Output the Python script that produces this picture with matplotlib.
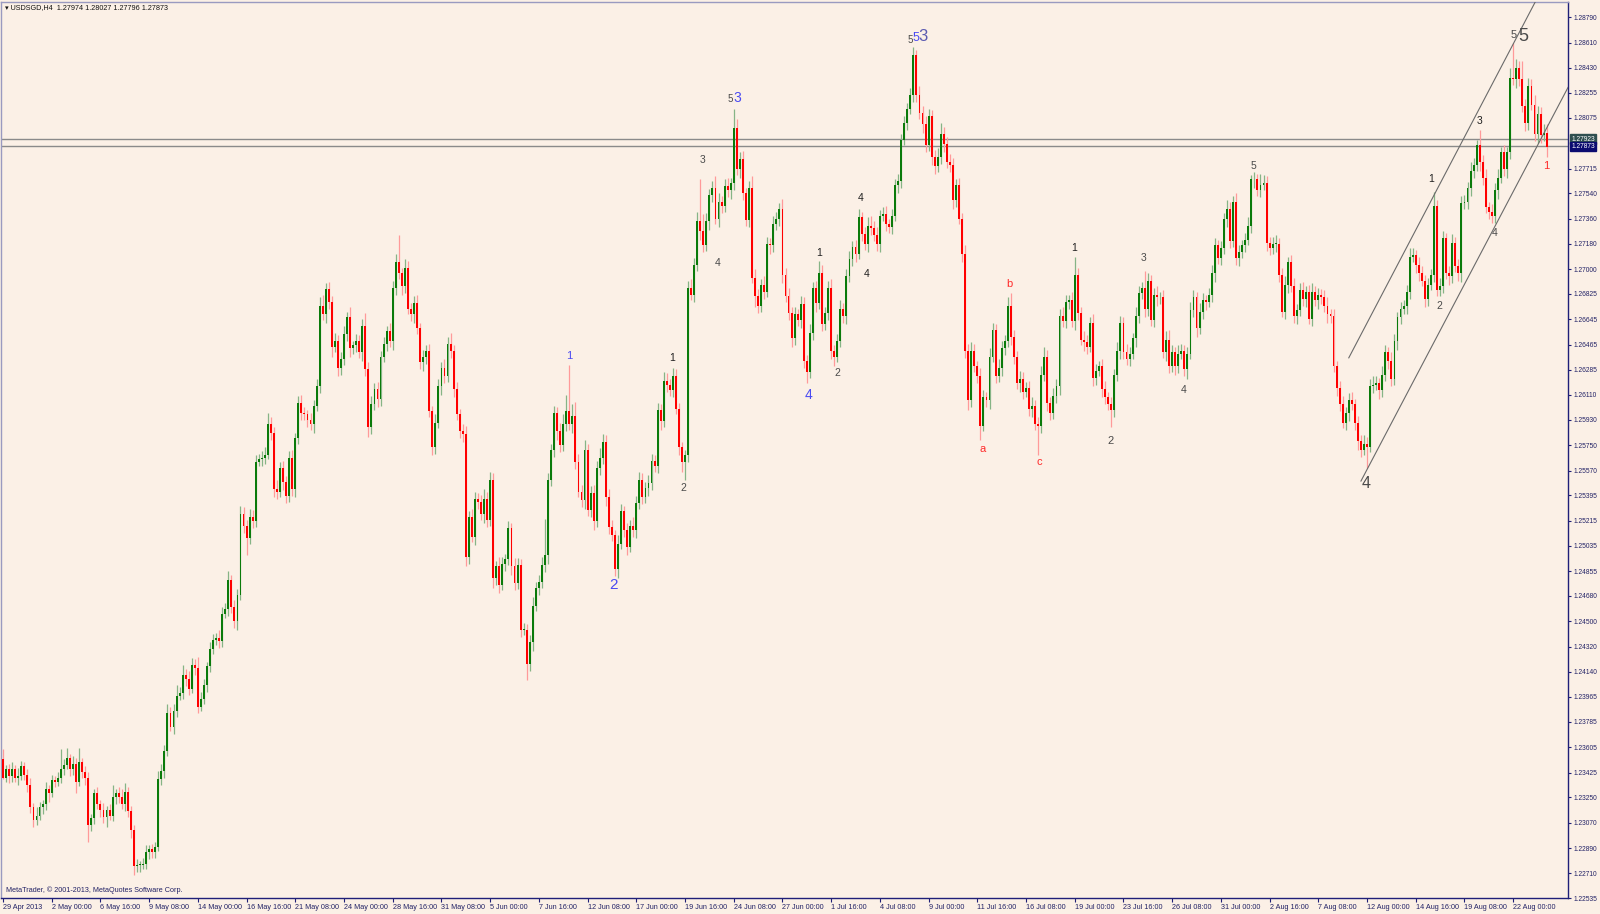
import numpy as np
import pandas as pd
import matplotlib
matplotlib.use("Agg")
import matplotlib.pyplot as plt

plt.rcParams["font.family"] = ["Liberation Sans", "DejaVu Sans"]

# USDSGD H4 candles, values in pips above 1.20000
first_open = 352
close_a = [339, 345, 340, 345, 339, 340, 347, 341, 334, 318,
           309, 312, 318, 320, 331, 328, 337, 336, 339, 345,
           348, 353, 345, 349, 336, 350, 343, 339, 305, 310,
           328, 320, 316, 311, 316, 312, 325, 328, 325, 320,
           329, 315, 302, 276, 277, 277, 278, 286, 288, 286,
           290, 338, 344, 358, 385, 375, 386, 397, 399, 412,
           409, 402, 419, 417, 389]
close_b = [395, 405, 418, 430, 437,
           438, 436, 455, 459, 479, 460, 450, 469, 526, 518,
           509, 524, 521, 563, 565, 566, 568, 590, 584, 544,
           542, 559, 549, 539, 566, 544, 580, 605, 598, 597,
           593, 590, 603, 617, 674, 668, 686, 677, 645, 649,
           630, 636, 654, 666, 644, 646, 649, 641, 660, 629,
           588, 604, 615, 608, 638, 647, 656, 649, 687, 705]
close_c = [697, 688, 701, 672, 668, 676, 658, 634, 638, 642,
           599, 574, 591, 617, 630, 624, 647, 642, 615, 597,
           585, 583, 496, 524, 510, 537, 535, 526, 537, 522,
           550, 481, 489, 476, 491, 494, 516, 489, 477, 490,
           444, 444, 420, 435, 461, 474, 478, 490, 497, 550,
           572, 598, 585, 575, 590, 599, 590, 596, 563, 542,
           536, 572, 529, 541, 521, 559, 566, 577, 538, 517]
close_d = [511, 487, 505, 528, 515, 503, 518, 515, 534, 550,
           538, 545, 548, 564, 560, 600, 592, 621, 618, 614,
           624, 601, 574, 563, 568, 687, 682, 703, 734, 727,
           717, 734, 753, 758, 736, 748, 745, 759, 756, 761,
           800, 771, 778, 754, 735, 758, 694, 681, 674, 689,
           684, 718, 717, 732, 736, 743, 696, 681, 669, 651,
           668, 664, 675, 635, 627]
close_e = [655, 687, 676, 697, 661,
           669, 687, 642, 638, 649, 672, 667, 695, 707, 716,
           711, 737, 725, 718, 731, 729, 724, 718, 738, 739,
           732, 730, 738, 760, 763, 792, 804, 814, 824, 852,
           824, 811, 803, 788, 809, 780, 773, 780, 796, 789,
           776, 774, 749, 760, 736, 711, 642, 607, 642, 631,
           624, 589, 609, 607, 638, 657, 624, 630, 644, 649]
close_f = [674, 652, 638, 619, 622, 613, 616, 601, 603, 590,
           589, 625, 638, 605, 598, 610, 617, 667, 663, 677,
           678, 663, 696, 669, 650, 648, 645, 662, 623, 628,
           631, 615, 609, 604, 600, 625, 642, 662, 641, 636,
           640, 651, 667, 683, 687, 672, 692, 664, 682, 680,
           680, 641, 650, 631, 641, 631, 640, 642, 629, 640,
           671, 680, 658, 670, 678, 677, 682, 697, 717, 708]
close_g = [715, 736, 743, 720, 748, 708, 712, 717, 721, 731,
           764, 764, 756, 760, 761, 719, 715, 718, 718, 696,
           670, 689, 705, 688, 667, 671, 685, 679, 684, 665,
           684, 678, 682, 680, 674, 668, 667, 631, 616, 604,
           591, 598, 607, 604, 591, 578, 572, 576, 574, 617,
           618, 619, 614, 625, 641, 635, 622, 649, 666, 672]
close_h = [674, 684, 709, 710, 703, 697, 692, 679, 689, 696,
           745, 685, 688, 722, 697, 695, 719, 702, 697, 747,
           748, 758, 770, 774, 788, 776, 765, 744, 741, 738,
           756, 765, 783, 771, 783, 836, 835, 843, 835, 816,
           804, 830, 817, 796, 810, 795, 797, 787]

# wick lengths above / below the body, pips
wick_up = [7, 3, 4, 5, 3, 6, 4, 3, 4, 5, 3, 6, 4, 3, 5, 3, 4, 3, 4, 14,
           4, 7, 3, 5, 4, 10, 3, 4, 4, 3, 3, 4, 3, 5, 3, 4, 9, 3, 4, 6,
           6, 3, 4, 3, 4, 3, 4, 5, 3, 4, 3, 6, 5, 4, 6, 4, 5, 8, 4, 7,
           4, 6, 5, 4, 8, 5, 4, 3, 5, 4, 4, 6, 5, 4, 7, 4, 5, 4, 6, 5,
           4, 6, 5, 5, 4, 5, 6, 8, 5, 4, 6, 4, 5, 4, 5, 6, 4, 5, 6, 4,
           3, 5, 4, 5, 6, 8, 4, 5, 4, 6, 4, 5, 6, 4, 7, 3, 5, 4, 5, 9,
           5, 6, 4, 5, 4, 5, 4, 6, 5, 6, 19, 4, 6, 5, 4, 5, 6, 4, 5, 4,
           5, 4, 6, 5, 4, 6, 5, 8, 4, 5, 4, 5, 6, 4, 6, 5, 4, 5, 7, 5,
           6, 5, 4, 7, 5, 4, 5, 4, 6, 5, 4, 5, 4, 5, 6, 4, 5, 6, 26, 5,
           4, 5, 4, 6, 7, 12, 33, 8, 10, 6, 5, 7, 4, 5, 6, 5, 7, 6, 5, 6,
           5, 4, 6, 5, 4, 5, 4, 6, 5, 6, 5, 4, 6, 5, 4, 5, 4, 6, 5, 4,
           6, 5, 4, 3, 4, 5, 6, 5, 7, 30, 12, 6, 4, 5, 8, 6, 4, 5, 6, 4,
           14, 7, 5, 6, 4, 5, 8, 6, 5, 4, 6, 5, 4, 6, 5, 4, 7, 5, 6, 4,
           5, 4, 6, 5, 4, 6, 4, 5, 9, 6, 4, 5, 6, 4, 5, 6, 4, 5, 6, 4,
           5, 6, 4, 5, 6, 7, 5, 6, 4, 5, 6, 4, 5, 4, 5, 4, 5, 4, 5, 6,
           4, 6, 5, 6, 5, 4, 5, 6, 8, 5, 5, 6, 5, 4, 5, 4, 6, 5, 6, 5,
           4, 6, 5, 4, 6, 5, 4, 6, 5, 4, 6, 9, 5, 4, 6, 5, 4, 5, 6, 4,
           5, 6, 7, 5, 4, 6, 5, 5, 6, 5, 4, 6, 13, 5, 4, 6, 5, 4, 6, 5,
           4, 5, 6, 4, 5, 4, 6, 5, 4, 6, 5, 4, 6, 5, 4, 12, 5, 4, 5, 6,
           4, 5, 6, 7, 5, 4, 6, 5, 4, 5, 6, 5, 4, 6, 5, 4, 5, 6, 5, 4,
           5, 4, 6, 5, 4, 6, 5, 4, 5, 6, 3, 5, 4, 8, 6, 5, 4, 5, 6, 4,
           5, 6, 4, 5, 6, 4, 5, 6, 4, 5, 6, 4, 5, 4, 5, 6, 4, 5, 4, 5,
           6, 4, 5, 6, 4, 5, 4, 6, 5, 5, 6, 5, 4, 6, 5, 4, 6, 5, 4, 5,
           4, 5, 6, 5, 4, 6, 5, 4, 5, 4, 10, 4, 6, 5, 4, 5, 6, 4, 5, 5,
           5, 4, 6, 5, 4, 11, 5, 6, 4, 5, 5, 6, 4, 5, 4, 7, 25, 6, 5, 13,
           5, 6, 5, 7, 6, 5, 6, 6]
wick_dn = [1, 3, 5, 4, 3, 5, 3, 4, 5, 4, 5, 4, 3, 5, 4, 6, 3, 4, 3, 4,
           4, 3, 5, 4, 8, 3, 4, 5, 12, 4, 4, 3, 5, 4, 7, 3, 4, 5, 4, 3,
           5, 4, 6, 6, 4, 5, 3, 4, 5, 4, 4, 3, 4, 5, 4, 3, 5, 4, 3, 4,
           5, 4, 3, 5, 4, 3, 4, 5, 4, 3, 4, 5, 4, 3, 5, 4, 5, 6, 4, 5,
           12, 4, 5, 4, 3, 5, 4, 3, 5, 6, 5, 4, 6, 5, 4, 5, 6, 4, 5, 4,
           5, 4, 6, 4, 5, 4, 6, 5, 7, 4, 6, 5, 4, 5, 6, 4, 5, 4, 6, 5,
           7, 5, 4, 6, 5, 4, 5, 4, 6, 5, 4, 6, 5, 4, 5, 6, 4, 5, 6, 5,
           4, 6, 5, 4, 6, 5, 4, 5, 6, 4, 5, 6, 7, 5, 4, 6, 5, 4, 6, 5,
           4, 7, 5, 6, 4, 5, 4, 6, 5, 4, 5, 4, 12, 5, 6, 4, 5, 4, 5, 6,
           4, 5, 6, 5, 4, 5, 4, 6, 5, 4, 5, 6, 4, 5, 6, 4, 5, 4, 6, 5,
           4, 5, 6, 4, 5, 6, 4, 5, 6, 4, 5, 4, 6, 5, 4, 5, 6, 4, 5, 4,
           5, 4, 6, 7, 13, 5, 4, 5, 4, 6, 5, 4, 6, 5, 4, 6, 5, 4, 5, 6,
           5, 4, 6, 5, 4, 5, 4, 8, 5, 4, 5, 4, 6, 5, 4, 5, 6, 4, 5, 6,
           5, 4, 6, 5, 8, 4, 5, 6, 4, 5, 4, 5, 6, 7, 4, 4, 5, 6, 4, 5,
           6, 4, 5, 4, 6, 5, 4, 5, 6, 4, 5, 4, 5, 4, 6, 5, 4, 5, 4, 5,
           5, 4, 6, 5, 4, 6, 5, 4, 5, 6, 4, 5, 6, 5, 4, 6, 5, 7, 5, 4,
           5, 10, 4, 5, 6, 4, 5, 4, 6, 5, 4, 6, 5, 4, 6, 5, 4, 5, 6, 4,
           21, 5, 4, 6, 5, 4, 5, 6, 4, 5, 5, 4, 6, 5, 4, 6, 5, 4, 6, 5,
           4, 6, 5, 4, 12, 5, 4, 6, 5, 4, 5, 4, 6, 5, 4, 6, 5, 4, 5, 6,
           5, 4, 6, 5, 4, 6, 5, 4, 5, 7, 4, 5, 6, 4, 5, 6, 4, 5, 6, 4,
           5, 4, 6, 5, 4, 5, 6, 4, 5, 4, 5, 6, 4, 5, 4, 6, 5, 4, 6, 5,
           4, 5, 6, 4, 5, 6, 4, 5, 6, 4, 5, 4, 6, 5, 4, 6, 5, 4, 6, 5,
           4, 5, 6, 4, 5, 6, 5, 4, 15, 4, 5, 4, 6, 5, 4, 6, 5, 4, 6, 5,
           4, 6, 5, 4, 6, 5, 4, 6, 5, 4, 5, 4, 4, 5, 4, 6, 5, 4, 5, 6,
           4, 5, 6, 5, 4, 6, 5, 4, 5, 5, 5, 6, 4, 5, 6, 5, 4, 6, 5, 4,
           6, 5, 4, 5, 6, 5, 4, 7]

# time labels on the bottom scale
x_tick_times = ["2013-05-02 00:00", "2013-05-06 16:00", "2013-05-09 08:00",
                "2013-05-14 00:00", "2013-05-16 16:00", "2013-05-21 08:00",
                "2013-05-24 00:00", "2013-05-28 16:00", "2013-05-31 08:00",
                "2013-06-05 00:00", "2013-06-07 16:00", "2013-06-12 08:00",
                "2013-06-17 00:00", "2013-06-19 16:00", "2013-06-24 08:00",
                "2013-06-27 00:00", "2013-07-01 16:00", "2013-07-04 08:00",
                "2013-07-09 00:00", "2013-07-11 16:00", "2013-07-16 08:00",
                "2013-07-19 00:00", "2013-07-23 16:00", "2013-07-26 08:00",
                "2013-07-31 00:00", "2013-08-02 16:00", "2013-08-07 08:00",
                "2013-08-12 00:00", "2013-08-14 16:00", "2013-08-19 08:00",
                "2013-08-22 00:00"]
y_ticks = [1.28790, 1.28610, 1.28430, 1.28255, 1.28075, 1.27715, 1.27540,
           1.27360, 1.27180, 1.27000, 1.26825, 1.26645, 1.26465, 1.26285,
           1.26110, 1.25930, 1.25750, 1.25570, 1.25395, 1.25215, 1.25035,
           1.24855, 1.24680, 1.24500, 1.24320, 1.24140, 1.23965, 1.23785,
           1.23605, 1.23425, 1.23250, 1.23070, 1.22890, 1.22710, 1.22535]

ask_price = 1.27923
bid_price = 1.27873

# channel: two anchor points per line (bar index, price)
chan_upper = [(442, 1.26371), (490, 1.28352)]
chan_lower = [(446, 1.25496), (494, 1.27469)]

# wave labels: text, bar index, price, colour key, font size
wave_text = ["1", "2", "5", "3", "4", "5", "5", "3",
             "1", "2", "3", "4", "1", "2", "4", "4",
             "a", "b", "c", "1", "2", "3", "4", "5", "4",
             "1", "2", "3", "4", "5", "5", "1"]
wave_bar = [186, 200.6, 238.8, 241.2, 264.7, 297.9, 299.8, 302.2,
            219.9, 223.6, 229.9, 234.8, 268.1, 273.9, 281.8, 283.8,
            321.8, 330.7, 340.2, 351.9, 363.9, 374.7, 387.8, 410.8, 447.6,
            469.2, 471.9, 485.0, 490.0, 496.2, 499.4, 507.0]
wave_price = [1.26385, 1.24755, 1.28210, 1.28215, 1.26110, 1.28630, 1.28640, 1.28655,
              1.26370, 1.25446, 1.27776, 1.27048, 1.27112, 1.26260, 1.27507, 1.26967,
              1.25723, 1.26893, 1.25630, 1.27154, 1.25778, 1.27077, 1.26145, 1.27735, 1.25480,
              1.27641, 1.26737, 1.28054, 1.27260, 1.28665, 1.28650, 1.27730]
wave_color = ["blue", "blue", "gray", "blue", "blue", "gray", "blue", "slate",
              "black", "gray", "gray", "gray", "black", "gray", "black", "black",
              "red", "red", "red", "black", "gray", "gray", "gray", "gray", "gray",
              "black", "gray", "black", "gray", "gray", "gray", "red"]
wave_size = [8, 11, 7, 10, 10, 7, 9, 12,
             7.5, 7.5, 7.5, 7.5, 7.5, 7.5, 7.5, 7.5,
             8, 8, 8, 7.5, 8, 7.5, 7.5, 7.5, 11.5,
             7.5, 7.5, 7.5, 7.5, 8, 13, 8]

palette = {"blue": "#4a4af2", "gray": "#4a4a4a", "black": "#202020",
           "red": "#ff2a2a", "slate": "#5a5ab0"}

BG = "#fbf0e6"
FRAME = "#1f1f78"
TXT = "#222266"

# build candles
close = np.array(close_a + close_b + close_c + close_d + close_e + close_f + close_g + close_h, float)
n = len(close)
opn = np.r_[first_open, close[:-1]]
hi = np.maximum(opn, close) + np.array(wick_up)
lo = np.minimum(opn, close) - np.array(wick_dn)
to_px = lambda v: 1.2 + np.asarray(v) / 10000.0
o_p, c_p, h_p, l_p = to_px(opn), to_px(close), to_px(hi), to_px(lo)

times = pd.date_range("2013-04-29 08:00", "2013-08-23 20:00", freq="4h")
times = times[times.dayofweek < 5]
x = np.arange(n)
bull = c_p >= o_p

fig = plt.figure(figsize=(16, 9.14), dpi=100, facecolor=BG)
ax = fig.add_axes([1 / 1600, 16 / 914, 1567 / 1600, 896 / 914], facecolor=BG)

# wicks first, bodies on top
ax.vlines(x[bull], l_p[bull], h_p[bull], color="#86b486", lw=0.9, zorder=2)
ax.vlines(x[~bull], l_p[~bull], h_p[~bull], color="#ff9a9a", lw=0.9, zorder=2)
body_lo = np.minimum(o_p, c_p)
body_h = np.maximum(np.abs(c_p - o_p), 0.00004)
ax.bar(x[bull], body_h[bull], bottom=body_lo[bull], width=0.62,
       color="#0a7a0a", linewidth=0, zorder=3)
ax.bar(x[~bull], body_h[~bull], bottom=body_lo[~bull], width=0.62,
       color="#ff0000", linewidth=0, zorder=3)

# bid / ask lines
for p in (ask_price, bid_price):
    ax.axhline(p, color="#8a8a8a", lw=1.0, zorder=1)

# channel rays (extend to the right edge)
x_lo, x_hi = -0.66, 514.0
for (xa, ya), (xb, yb) in (chan_upper, chan_lower):
    slope = (yb - ya) / (xb - xa)
    ax.plot([xa, x_hi], [ya, ya + slope * (x_hi - xa)], color="#6a6a6a", lw=0.8, zorder=4)

# wave labels
for t, b, p, c, s in zip(wave_text, wave_bar, wave_price, wave_color, wave_size):
    ax.text(b, p, t, color=palette[c], fontsize=s, ha="center", va="center", zorder=5)

ax.set_xlim(x_lo, x_hi)
ax.set_ylim(1.22573, 1.28898)

# axes / frame
for side, s in ax.spines.items():
    s.set_linewidth(1.0)
    s.set_color(FRAME if side in ("right", "bottom") else "#9a9ac0")

ax.yaxis.tick_right()
ax.set_yticks(y_ticks)
ax.set_yticklabels([f"{v:.5f}" for v in y_ticks])
ax.tick_params(axis="y", direction="out", length=2.5, width=0.8, color=FRAME,
               labelsize=4.8, labelcolor=TXT, pad=1.5)

pos = {t: i for i, t in enumerate(times)}
tick_idx = [0] + [pos[pd.Timestamp(t)] for t in x_tick_times]
tick_lab = ["29 Apr 2013"] + [f"{pd.Timestamp(t).day} {pd.Timestamp(t):%b %H:%M}" for t in x_tick_times]
ax.set_xticks(tick_idx)
ax.set_xticklabels(tick_lab, ha="left")
ax.tick_params(axis="x", direction="out", length=3, width=0.8, color=FRAME,
               labelsize=5.2, labelcolor=TXT, pad=1.5)

# price boxes on the scale
for p, fc in ((ask_price, "#2f4f4f"), (bid_price, "#0b0b70")):
    ax.annotate(f"{p:.5f}", xy=(1.0, p), xycoords=("axes fraction", "data"),
                xytext=(2.5, 0), textcoords="offset points", ha="left", va="center",
                fontsize=4.8, color="white", annotation_clip=False,
                bbox=dict(boxstyle="square,pad=0.2", fc=fc, ec=fc))

fig.text(5 / 1600, 1 - 8 / 914, "▾ USDSGD,H4  1.27974 1.28027 1.27796 1.27873",
         fontsize=5.2, color="#111111", ha="left", va="center")
ax.text(0.003, 0.004, "MetaTrader, © 2001-2013, MetaQuotes Software Corp.",
        transform=ax.transAxes, fontsize=5.2, color=TXT, ha="left", va="bottom")

fig.savefig("out.png", dpi=100, facecolor=BG)
